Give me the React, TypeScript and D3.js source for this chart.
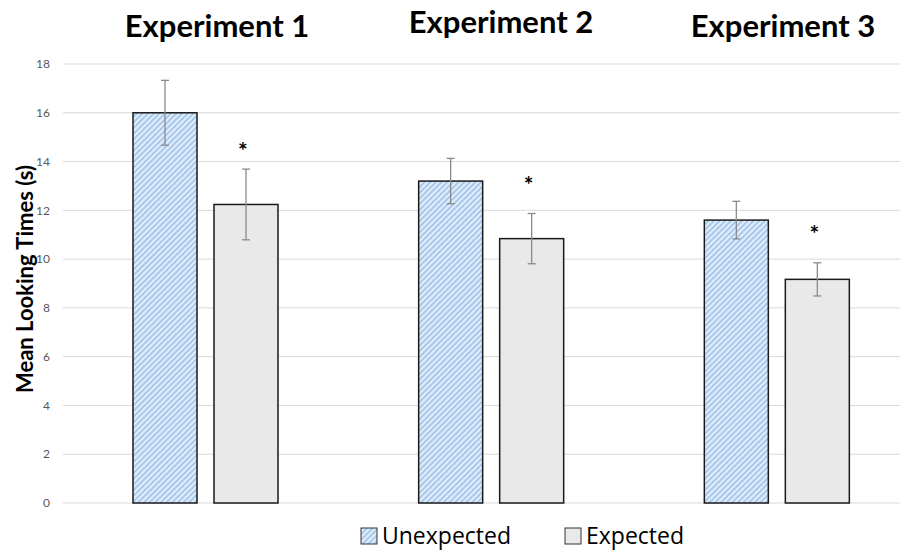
import React from "react";
import * as d3 from "d3";

const experiments = ["Experiment 1", "Experiment 2", "Experiment 3"];
const conditions = ["Unexpected", "Expected"];
const unexpectedMeans = [16.0, 13.2, 11.6];
const unexpectedErr = [1.33, 0.93, 0.77];
const expectedMeans = [12.24, 10.84, 9.17];
const expectedErr = [1.45, 1.03, 0.68];
const starLevel = [14.8, 13.4, 11.4];
const yTicks = [0, 2, 4, 6, 8, 10, 12, 14, 16, 18];

const W = 909;
const H = 551;
const FONT = "Lato, 'Open Sans', sans-serif";
const LFONT = "'Open Sans', Lato, sans-serif";

export default function App() {
  const y = d3.scaleLinear().domain([0, 18]).range([503, 64]);
  const x0 = d3.scaleBand<string>().domain(experiments).range([62, 919]).padding(0);
  const x1 = d3
    .scaleBand<string>()
    .domain(conditions)
    .range([71, 216])
    .paddingInner(17 / 81)
    .paddingOuter(0);

  const means = [unexpectedMeans, expectedMeans];
  const errs = [unexpectedErr, expectedErr];
  const fills = ["url(#hatch)", "#e9e9e9"];
  const titleY = [37, 33, 37];
  const titleX = [217, 501, 783];

  return (
    <svg width={W} height={H} style={{ display: "block", position: "absolute", left: 0, top: 0 }}>
      <defs>
        <pattern id="hatch" patternUnits="userSpaceOnUse" width={4} height={4} patternTransform="rotate(45)">
          <rect width={4} height={4} fill="#e2edf9" />
          <rect width={2} height={4} fill="#a8c9ee" />
        </pattern>
      </defs>
      <rect width={W} height={H} fill="#ffffff" />
      {yTicks.map((t) => (
        <g key={t}>
          <line x1={63} x2={900} y1={y(t)} y2={y(t)} stroke="#d9d9d9" strokeWidth={1} />
          <text x={50} y={y(t)} dy="0.35em" textAnchor="end" fontFamily={FONT} fontSize={12} fill="#595959">
            {t}
          </text>
        </g>
      ))}
      <text
        transform={`translate(25,${279}) rotate(-90)`}
        textAnchor="middle"
        dy="0.35em"
        fontFamily={FONT}
        fontWeight="bold"
        fontSize={22}
        fill="#000"
      >
        Mean Looking Times (s)
      </text>
      {experiments.map((e, i) => {
        const gx = x0(e)!;
        return (
          <g key={e}>
            {conditions.map((c, k) => {
              const bx = gx + x1(c)!;
              const bw = x1.bandwidth();
              const v = means[k][i];
              const er = errs[k][i];
              const cx = bx + bw / 2;
              return (
                <g key={c}>
                  <rect x={bx} y={y(v)} width={bw} height={y(0) - y(v)} fill={fills[k]} stroke="#1a1a1a" strokeWidth={1.5} />
                  <line x1={cx} x2={cx} y1={y(v + er)} y2={y(v - er)} stroke="#8a8a8a" strokeWidth={1.3} />
                  <line x1={cx - 4} x2={cx + 4} y1={y(v + er)} y2={y(v + er)} stroke="#8a8a8a" strokeWidth={1.3} />
                  <line x1={cx - 4} x2={cx + 4} y1={y(v - er)} y2={y(v - er)} stroke="#8a8a8a" strokeWidth={1.3} />
                </g>
              );
            })}
            <text
              x={gx + x1("Expected")! + x1.bandwidth() / 2 - 3}
              y={y(starLevel[i])}
              dy="0.75em"
              textAnchor="middle"
              fontFamily={FONT}
              fontWeight="bold"
              fontSize={23}
            >
              *
            </text>
            <text
              x={titleX[i]}
              y={titleY[i]}
              textAnchor="middle"
              fontFamily={FONT}
              fontWeight="bold"
              fontSize={31}
              fill="#000"
            >
              {e}
            </text>
          </g>
        );
      })}
      <g>
        <rect x={361} y={528} width={16} height={16} fill="url(#hatch)" stroke="#333" strokeWidth={1} />
        <text x={382} y={544} fontFamily={LFONT} fontSize={23} fill="#000">
          Unexpected
        </text>
        <rect x={565} y={528} width={16} height={16} fill="#e9e9e9" stroke="#333" strokeWidth={1} />
        <text x={586} y={544} fontFamily={LFONT} fontSize={23} fill="#000">
          Expected
        </text>
      </g>
    </svg>
  );
}
